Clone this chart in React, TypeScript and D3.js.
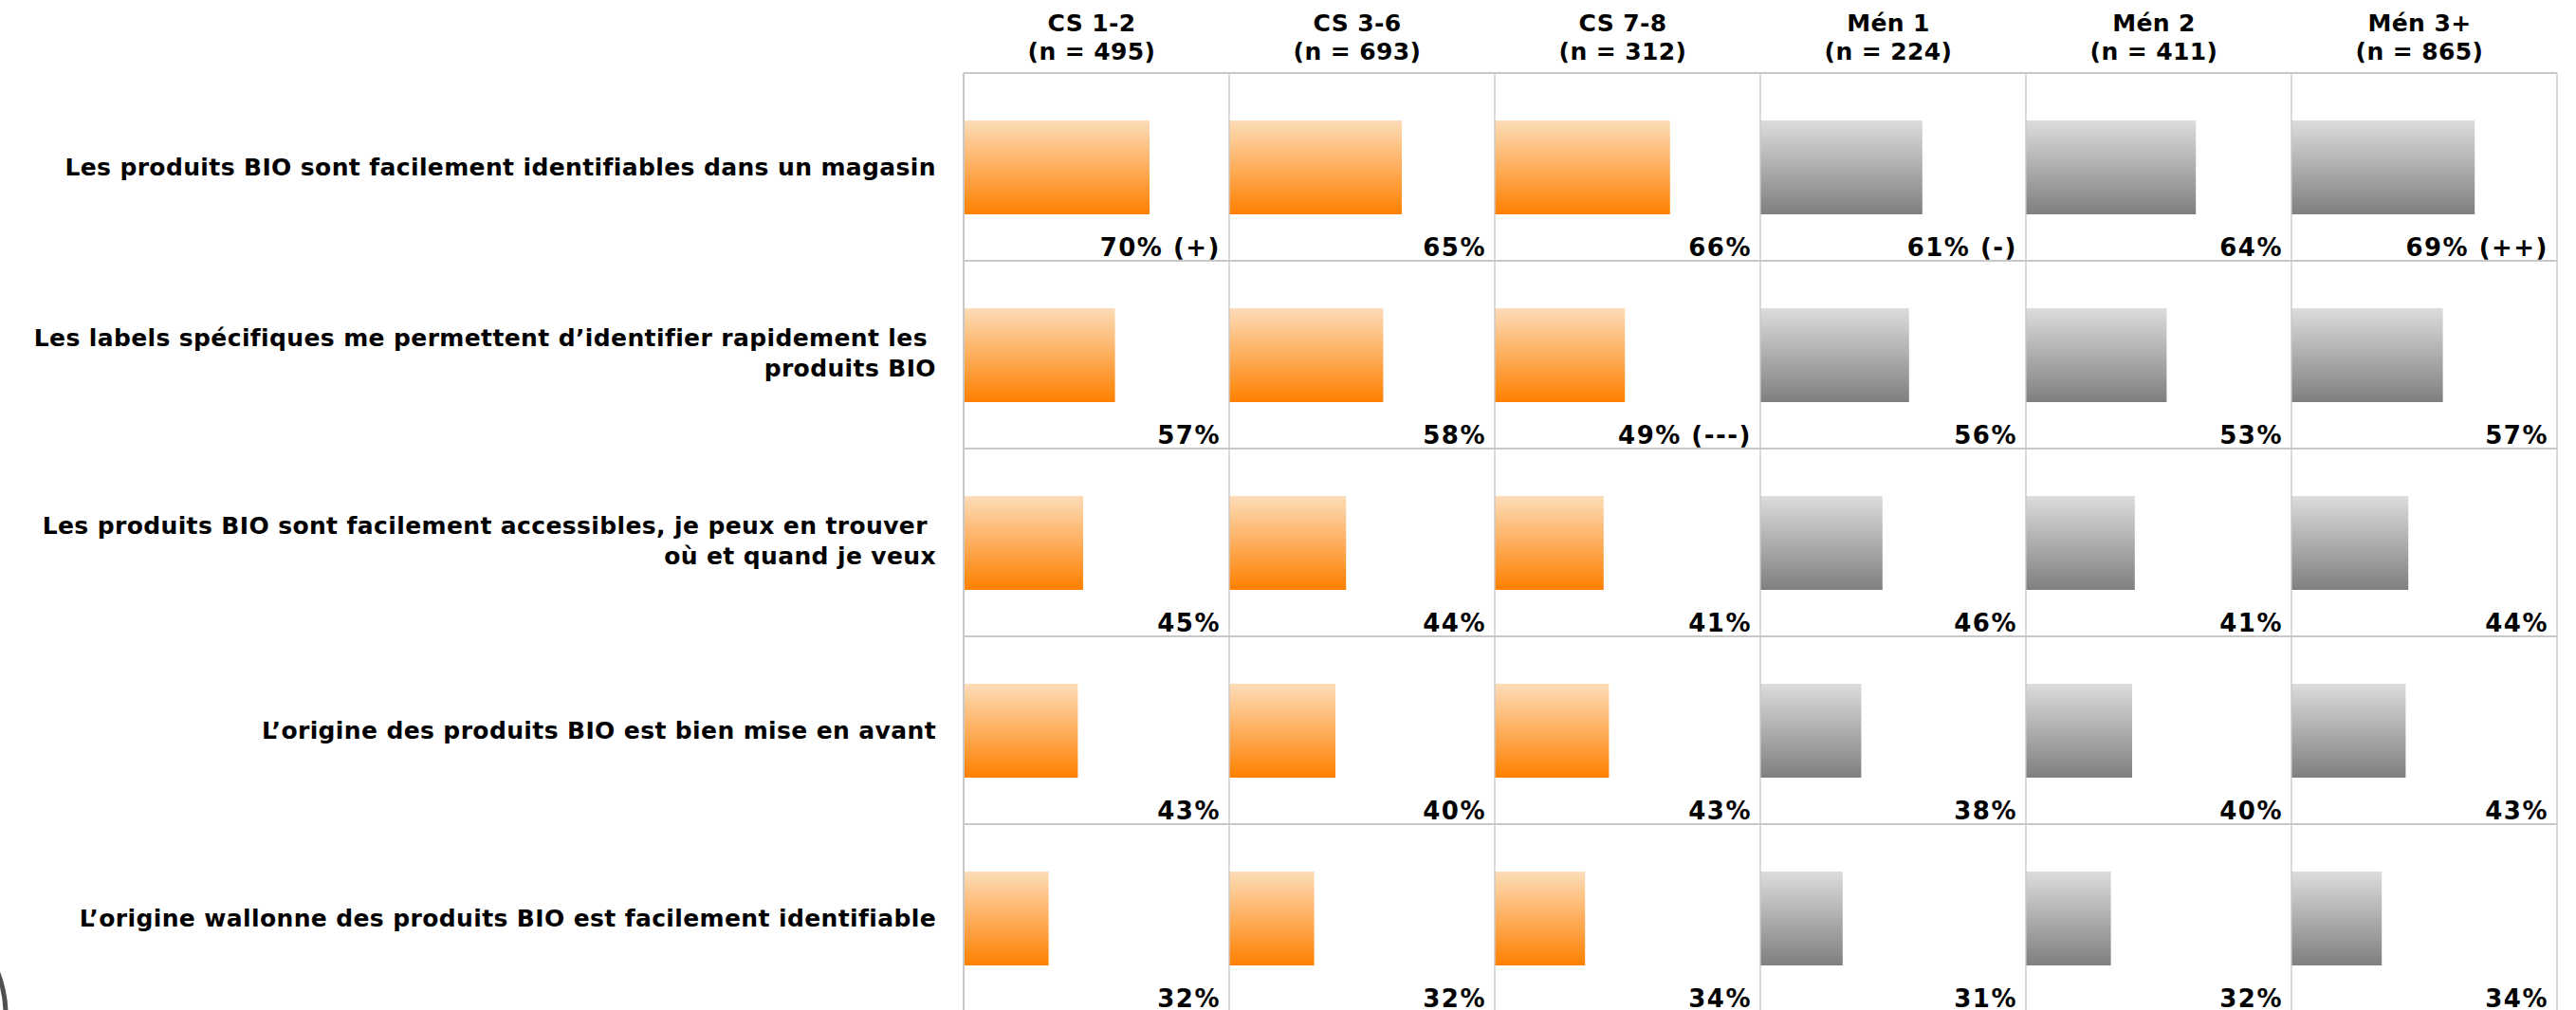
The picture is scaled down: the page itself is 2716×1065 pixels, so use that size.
import React from "react";
import * as d3 from "d3";

const categories = ["CS 1-2", "CS 3-6", "CS 7-8", "Mén 1", "Mén 2", "Mén 3+"];
const sampleSizes = ["(n = 495)", "(n = 693)", "(n = 312)", "(n = 224)", "(n = 411)", "(n = 865)"];
const groupType = ["cs", "cs", "cs", "men", "men", "men"];

const statements = [
  ["Les produits BIO sont facilement identifiables dans un magasin"],
  ["Les labels spécifiques me permettent d’identifier rapidement les ", "produits BIO"],
  ["Les produits BIO sont facilement accessibles, je peux en trouver ", "où et quand je veux"],
  ["L’origine des produits BIO est bien mise en avant"],
  ["L’origine wallonne des produits BIO est facilement identifiable"],
];

const values = [
  [70, 65, 66, 61, 64, 69],
  [57, 58, 49, 56, 53, 57],
  [45, 44, 41, 46, 41, 44],
  [43, 40, 43, 38, 40, 43],
  [32, 32, 34, 31, 32, 34],
];

const significance = [
  ["(+)", "", "", "(-)", "", "(++)"],
  ["", "", "(---)", "", "", ""],
  ["", "", "", "", "", ""],
  ["", "", "", "", "", ""],
  ["", "", "", "", "", ""],
];

const W = 2716;
const H = 1065;
const FONT = "'DejaVu Sans', Verdana, sans-serif";

export default function App() {
  const gridLeft = 1016;
  const gridRight = 2696;
  const gridTop = 77;
  const rowH = 198;

  const x = d3.scaleBand<string>().domain(categories).range([gridLeft, gridRight]).padding(0);
  const rowsIdx = statements.map((_, i) => String(i));
  const y = d3
    .scaleBand<string>()
    .domain(rowsIdx)
    .range([gridTop, gridTop + rowH * statements.length])
    .padding(0);
  const colW = x.bandwidth();
  const w = d3.scaleLinear().domain([0, 100]).range([0, colW]);

  const barOffset = 50;
  const barH = 99;

  return (
    <div style={{ position: "fixed", left: 0, top: 0, width: W, height: H, background: "#fff" }}>
      <svg width={W} height={H} style={{ display: "block" }}>
        <defs>
          <linearGradient id="gOrange" x1="0" y1="0" x2="0" y2="1">
            <stop offset="0%" stopColor="#fddcb8" />
            <stop offset="100%" stopColor="#ff8000" />
          </linearGradient>
          <linearGradient id="gGray" x1="0" y1="0" x2="0" y2="1">
            <stop offset="0%" stopColor="#dcdcdc" />
            <stop offset="100%" stopColor="#7f7f7f" />
          </linearGradient>
        </defs>
        <rect x={0} y={0} width={W} height={H} fill="#fff" />

        {/* headers */}
        {categories.map((c, i) => {
          const cx = (x(c) as number) + colW / 2 - 5;
          return (
            <g key={c}>
              <text x={cx} y={33} textAnchor="middle" fontFamily={FONT} fontWeight="bold" fontSize={25} letterSpacing={0.4} fill="#000">
                {c}
              </text>
              <text x={cx} y={63} textAnchor="middle" fontFamily={FONT} fontWeight="bold" fontSize={25} letterSpacing={0.4} fill="#000">
                {sampleSizes[i]}
              </text>
            </g>
          );
        })}

        {/* bars */}
        {values.map((row, r) =>
          row.map((v, c) => {
            const x0 = x(categories[c]) as number;
            const y0 = y(String(r)) as number;
            return (
              <rect
                key={`b${r}-${c}`}
                x={x0}
                y={y0 + barOffset}
                width={w(v)}
                height={barH}
                fill={groupType[c] === "cs" ? "url(#gOrange)" : "url(#gGray)"}
              />
            );
          })
        )}

        {/* grid lines */}
        {d3.range(statements.length + 1).map((r) => {
          const yy = gridTop + r * rowH;
          return (
            <line key={`h${r}`} x1={gridLeft} x2={gridRight} y1={yy} y2={yy} stroke="#c8c8c8" strokeWidth={2} />
          );
        })}
        {d3.range(categories.length + 1).map((c) => {
          const xx = gridLeft + c * colW;
          return (
            <line
              key={`v${c}`}
              x1={xx}
              x2={xx}
              y1={gridTop}
              y2={gridTop + rowH * statements.length}
              stroke="#c8c8c8"
              strokeWidth={c === 0 ? 2 : 1.3}
            />
          );
        })}

        {/* value labels */}
        {values.map((row, r) =>
          row.map((v, c) => {
            const x0 = x(categories[c]) as number;
            const y0 = y(String(r)) as number;
            const sig = significance[r][c];
            return (
              <text
                key={`l${r}-${c}`}
                x={x0 + colW - 9}
                y={y0 + 193}
                textAnchor="end"
                fontFamily={FONT}
                fontWeight="bold"
                fontSize={26}
                letterSpacing={1.5}
                fill="#000"
              >
                {`${v}%${sig ? " " + sig : ""}`}
              </text>
            );
          })
        )}

        {/* statement labels */}
        {statements.map((lines, r) => {
          const center = (y(String(r)) as number) + rowH / 2;
          const base = lines.length === 1 ? center + 9 : center - 9;
          return (
            <text
              key={`s${r}`}
              textAnchor="end"
              fontFamily={FONT}
              fontWeight="bold"
              fontSize={25}
              letterSpacing={0.38}
              fill="#000"
              style={{ whiteSpace: "pre" }}
            >
              {lines.map((ln, k) => (
                <tspan key={k} x={987} y={base + k * 32}>
                  {ln}
                </tspan>
              ))}
            </text>
          );
        })}

        {/* partial logo arc at bottom-left */}
        <circle cx={-117} cy={1070} r={123} fill="none" stroke="#505050" strokeWidth={5} />
      </svg>
    </div>
  );
}
